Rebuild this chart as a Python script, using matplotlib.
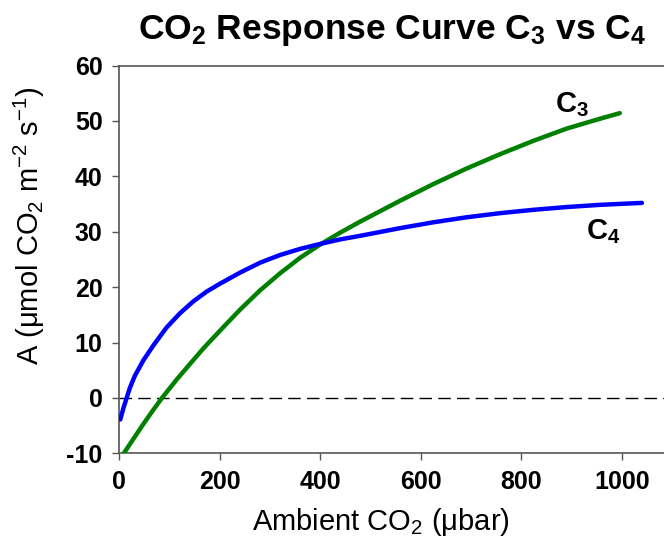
import matplotlib
matplotlib.use('Agg')
import matplotlib.pyplot as plt

plt.rcParams['font.family'] = ['Liberation Sans', 'DejaVu Sans']
plt.rcParams['mathtext.fontset'] = 'custom'
plt.rcParams['mathtext.rm'] = 'Liberation Sans'
plt.rcParams['mathtext.bf'] = 'Liberation Sans:bold'
plt.rcParams['mathtext.it'] = 'Liberation Sans:italic'
plt.rcParams['axes.unicode_minus'] = False

# C3 curve (green)
c3_x = [9, 31, 48, 65, 85, 115, 148, 167, 200, 240, 280, 320, 360, 400, 439, 479,
        559, 625, 691, 758, 824, 890, 957, 996]
c3_y = [-10.0, -7.0, -4.7, -2.5, 0.0, 3.4, 6.9, 8.9, 12.1, 15.9, 19.4, 22.5, 25.3, 27.7, 29.8, 31.8,
        35.6, 38.6, 41.4, 44.0, 46.4, 48.6, 50.4, 51.4]

# C4 curve (blue)
c4_x = [2, 8, 15, 21, 31, 48, 68, 94, 121, 147, 174, 200, 240, 280, 320, 360, 400, 439, 479,
        559, 625, 691, 758, 824, 890, 957, 1040]
c4_y = [-3.9, -1.9, 0.1, 1.8, 4.0, 6.8, 9.5, 12.7, 15.3, 17.4, 19.2, 20.6, 22.6, 24.4, 25.8, 26.9, 27.8, 28.6, 29.25,
        30.65, 31.7, 32.6, 33.35, 33.95, 34.45, 34.85, 35.2]

x_ticks = [0, 200, 400, 600, 800, 1000]
y_ticks = [-10, 0, 10, 20, 30, 40, 50, 60]

GREEN = '#008000'
BLUE = '#0000ff'
SPINE = '#555555'

fig = plt.figure(figsize=(6.64, 5.42), dpi=100)
ax = fig.add_axes([119.3 / 664, 1 - 453.3 / 542, (664 - 119.3) / 664, (453.3 - 65.5) / 542])

ax.axhline(0, color='black', linewidth=1.0, linestyle=(0, (9, 4.5)), zorder=1)
ax.plot(c3_x, c3_y, color=GREEN, linewidth=3.2, solid_capstyle='round',
        solid_joinstyle='round', zorder=3)
ax.plot(c4_x, c4_y, color=BLUE, linewidth=3.2, solid_capstyle='round',
        solid_joinstyle='round', zorder=3)

ax.text(900, 53.0, r'C$_\mathbf{3}$', fontsize=21, fontweight='bold', ha='center', va='center')
ax.text(963, 30.0, r'C$_\mathbf{4}$', fontsize=21, fontweight='bold', ha='center', va='center')

ax.set_xlim(0, 1084)
ax.set_ylim(-10, 60)
ax.set_xticks(x_ticks)
ax.set_yticks(y_ticks)
for lab in ax.get_xticklabels() + ax.get_yticklabels():
    lab.set_fontweight('bold')
ax.tick_params(axis='both', direction='out', length=5, width=1, color=SPINE,
               labelsize=18, pad=7)

for side in ['left', 'bottom', 'top']:
    ax.spines[side].set_color(SPINE)
    ax.spines[side].set_linewidth(1.2)
ax.spines['right'].set_visible(False)

ax.set_xlabel('Ambient CO$_2$ (μbar)', fontsize=21)
ax.xaxis.set_label_coords(0.48, -0.135)
ax.set_ylabel('A (μmol CO$_2$ m$^{-2}$ s$^{-1}$)', fontsize=21)
ax.yaxis.set_label_coords(-0.132, 0.586)
ax.set_title(r'CO$_\mathbf{2}$ Response Curve C$_\mathbf{3}$ vs C$_\mathbf{4}$',
             fontsize=25.5, fontweight='bold', pad=19)

fig.savefig('out.png', dpi=100)
